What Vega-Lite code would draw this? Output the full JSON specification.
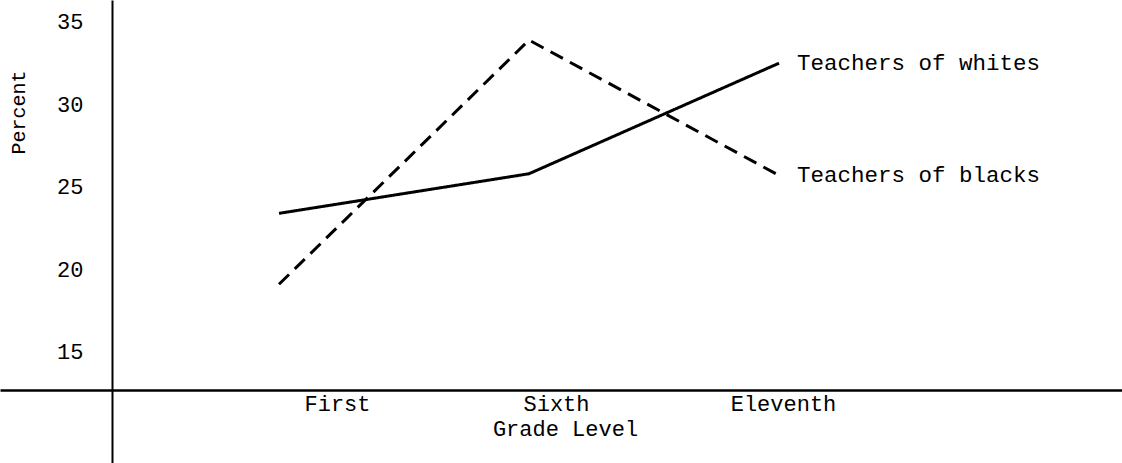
{
  "$schema": "https://vega.github.io/schema/vega-lite/v6.json",
  "width": 1122,
  "height": 463,
  "autosize": {"type": "none"},
  "padding": 0,
  "background": "white",
  "config": {"view": {"stroke": null}, "font": "Liberation Mono"},
  "data": {"values": [
    {"grade": 1, "group": "Teachers of whites", "percent": 23.4},
    {"grade": 6, "group": "Teachers of whites", "percent": 25.8},
    {"grade": 11, "group": "Teachers of whites", "percent": 32.5},
    {"grade": 1, "group": "Teachers of blacks", "percent": 19.1},
    {"grade": 6, "group": "Teachers of blacks", "percent": 33.9},
    {"grade": 11, "group": "Teachers of blacks", "percent": 25.7}
  ]},
  "encoding": {
    "x": {
      "field": "grade", "type": "quantitative",
      "scale": {"domain": [-4.58, 17.86], "nice": false, "zero": false},
      "axis": {
        "values": [1, 6, 11],
        "labelExpr": "datum.value == 1 ? 'First' : datum.value == 6 ? 'Sixth' : 'Eleventh'",
        "title": "Grade Level",
        "offset": -73,
        "ticks": false, "grid": false,
        "domainColor": "black", "domainWidth": 2.5,
        "labelFontSize": 22, "labelColor": "black", "labelPadding": 3,
        "labelOffset": {"condition": [{"test": "datum.value == 1", "value": 58}, {"test": "datum.value == 6", "value": 27}], "value": 4},
        "labelFlush": false, "labelOverlap": false,
        "titleFontSize": 22, "titleFontWeight": "normal", "titleColor": "black",
        "titleX": 565, "titleY": 38, "titleBaseline": "middle", "titleAlign": "center"
      }
    },
    "y": {
      "field": "percent", "type": "quantitative",
      "scale": {"domain": [8.27, 36.33], "nice": false, "zero": false},
      "axis": {
        "values": [15, 20, 25, 30, 35],
        "title": "Percent",
        "offset": -112,
        "ticks": false, "grid": false,
        "domainColor": "black", "domainWidth": 2,
        "labelFontSize": 22, "labelColor": "black", "labelPadding": 29,
        "titleFontSize": 20, "titleFontWeight": "normal", "titleColor": "black",
        "titleX": -94, "titleY": 112, "titleAngle": 270, "titleBaseline": "middle", "titleAlign": "center"
      }
    }
  },
  "layer": [
    {
      "mark": {"type": "line", "color": "black", "strokeWidth": 3},
      "encoding": {
        "detail": {"field": "group"},
        "strokeDash": {
          "field": "group", "type": "nominal",
          "scale": {"domain": ["Teachers of whites", "Teachers of blacks"], "range": [[1, 0], [14, 8]]},
          "legend": null
        }
      }
    },
    {
      "transform": [{"filter": "datum.grade == 11"}],
      "mark": {"type": "text", "align": "left", "baseline": "middle", "dx": 18, "fontSize": 22.5, "color": "black"},
      "encoding": {"text": {"field": "group"}}
    }
  ]
}
